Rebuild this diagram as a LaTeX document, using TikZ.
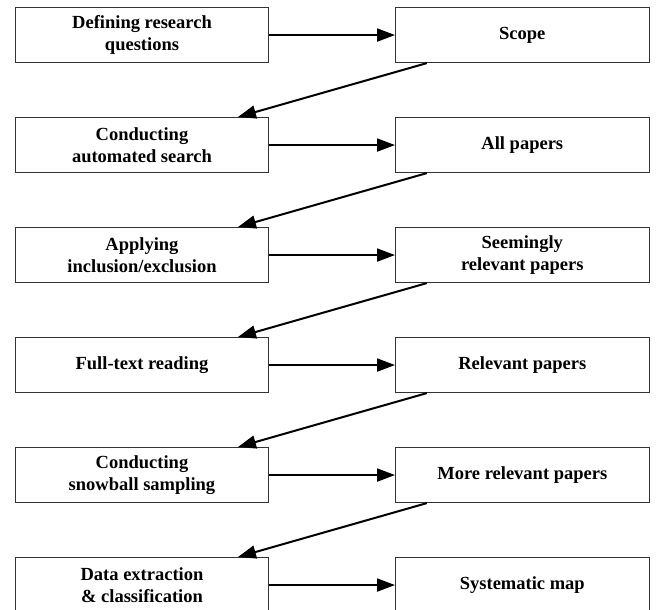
\documentclass[tikz,border=0pt]{standalone}
\usepackage{fontspec}
\setmainfont{Liberation Serif}
\usetikzlibrary{arrows.meta,calc}
\begin{document}
\begin{tikzpicture}[x=1pt,y=-1pt,
  box/.style={draw=black!80, line width=1.1pt, minimum width=253.5pt, minimum height=55pt,
    inner sep=0pt, align=center, anchor=north west,
    font=\fontsize{18.5}{22}\selectfont\bfseries},
  arr/.style={line width=2pt, -{Triangle[length=18pt,width=13pt]}}]
\useasboundingbox (0,0) rectangle (656,610);
\node[box] (l1) at (14.7,7)   {Defining research\\questions};
\node[box] (r1) at (395,7)    {Scope};
\node[box] (l2) at (14.7,117) {Conducting\\automated search};
\node[box] (r2) at (395,117)  {All papers};
\node[box] (l3) at (14.7,227) {Applying\\inclusion/exclusion};
\node[box] (r3) at (395,227)  {Seemingly\\relevant papers};
\node[box] (l4) at (14.7,337) {Full-text reading};
\node[box] (r4) at (395,337)  {Relevant papers};
\node[box] (l5) at (14.7,447) {Conducting\\snowball sampling};
\node[box] (r5) at (395,447)  {More relevant papers};
\node[box] (l6) at (14.7,557) {Data extraction\\\& classification};
\node[box] (r6) at (395,557)  {Systematic map};
\foreach \i in {1,...,6}{
  \draw[arr] (l\i.east) -- (r\i.west);
}
\foreach \i [count=\j from 2] in {1,...,5}{
  \draw[arr] ($(r\i.south west)!0.125!(r\i.south east)$) -- ($(l\j.north west)!0.877!(l\j.north east)$);
}
\end{tikzpicture}
\end{document}
